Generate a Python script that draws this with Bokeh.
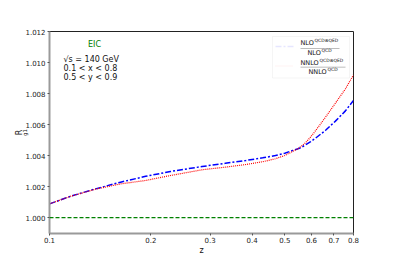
import numpy as np
from bokeh.plotting import figure
from bokeh.models import (Label, FixedTicker, CustomJSTickFormatter, Range1d, BoxAnnotation,
                          Span, Title)
from bokeh.embed import file_html
from bokeh.resources import INLINE

# data
z_vals = [0.1, 0.1155, 0.137, 0.1626, 0.193, 0.2287, 0.284, 0.333, 0.383, 0.43, 0.469, 0.5,
          0.527, 0.545, 0.557, 0.576, 0.597, 0.618, 0.661, 0.707, 0.757, 0.8]
r_nlo = [1.00088, 1.00137, 1.00185, 1.00228, 1.00266, 1.00297, 1.00329, 1.00350, 1.00368,
         1.00385, 1.00400, 1.00415, 1.00432, 1.00442, 1.00450, 1.00468, 1.00490, 1.00513,
         1.00563, 1.00622, 1.00688, 1.00755]
r_nnlo = [1.00088, 1.00137, 1.00183, 1.00217, 1.00239, 1.00271, 1.00308, 1.00325, 1.00342,
          1.00360, 1.00379, 1.00400, 1.00426, 1.00442, 1.00456, 1.00482, 1.00520, 1.00562,
          1.00648, 1.00738, 1.00830, 1.00920]
x_ticks = [0.1, 0.2, 0.3, 0.4, 0.5, 0.6, 0.7, 0.8]
y_ticks = [1.000, 1.002, 1.004, 1.006, 1.008, 1.010, 1.012]

FONT = "DejaVu Sans"
X0, X1 = 0.1, 0.8
Y0, Y1 = 0.99897, 1.012
FW, FH = 304, 202

p = figure(frame_width=FW, frame_height=FH, x_axis_type="log", output_backend="svg",
           toolbar_location=None, x_range=Range1d(X0, X1), y_range=Range1d(Y0, Y1),
           min_border_left=49, min_border_right=40, min_border_top=31, min_border_bottom=29)
p.grid.visible = False
p.outline_line_color = "#222222"
p.outline_line_width = 1
p.background_fill_color = "white"
p.border_fill_color = "white"

p.xaxis.ticker = FixedTicker(ticks=x_ticks, minor_ticks=[])
p.xaxis.formatter = CustomJSTickFormatter(code="return tick.toFixed(1);")
p.yaxis.ticker = FixedTicker(ticks=y_ticks, minor_ticks=[])
p.yaxis.formatter = CustomJSTickFormatter(code="return tick.toFixed(3);")
for ax in (p.xaxis, p.yaxis):
    ax.axis_line_color = "#9a9a9a"
    ax.axis_line_width = 2
    ax.major_tick_line_color = "#555555"
    ax.major_tick_out = 2
    ax.major_tick_in = 0
    ax.minor_tick_out = 0
    ax.minor_tick_in = 0
    ax.major_label_text_font = FONT
    ax.major_label_text_font_size = "7px"
    ax.major_label_text_color = "#222222"
    ax.major_label_standoff = 2
    ax.axis_label_text_font = FONT
    ax.axis_label_text_font_style = "normal"
    ax.axis_label_text_color = "#111111"
p.xaxis.major_label_standoff = 1
p.xaxis.axis_label = "z"
p.xaxis.axis_label_standoff = 0
p.xaxis.axis_label_text_font_size = "8px"

# y label R_{g1}: subscript as the axis label, "R" as a side title just outside it
p.yaxis.axis_label = "g1"
p.yaxis.axis_label_standoff = -6
p.yaxis.axis_label_text_font_size = "5.5px"
p.add_layout(Title(text="R", align="center", offset=11, standoff=-8, text_font=FONT,
                   text_font_size="8px", text_font_style="normal", text_color="#111111"),
             "left")


def fx(px):
    """frame-relative pixel -> data x (log axis)"""
    return X0 * (X1 / X0) ** (px / FW)


def fy(py):
    """frame-relative pixel (from top) -> data y"""
    return Y1 - (Y1 - Y0) * py / FH


p.line(z_vals, r_nlo, line_color="blue", line_width=1.5, line_dash="6 2 2 2")
p.line(z_vals, r_nnlo, line_color="red", line_width=1.2, line_dash="1 1")
p.add_layout(Span(location=1.0, dimension="width", line_color="green",
                  line_width=1.2, line_dash="4 2"))

# annotation texts
p.add_layout(Label(x=fx(45), y=fy(13), text="EIC", text_color="green", text_font=FONT,
                   text_font_size="8px", text_align="center", text_baseline="middle"))
for py, t in [(28, "√s = 140 GeV"), (36.5, "0.1 < x < 0.8"), (46, "0.5 < y < 0.9")]:
    p.add_layout(Label(x=fx(14), y=fy(py), text=t, text_color="#111111", text_font=FONT,
                       text_font_size="8px", text_baseline="middle"))

# legend
p.add_layout(BoxAnnotation(left=fx(223), right=fx(300), bottom=fy(46.5), top=fy(5),
                           fill_color="white", fill_alpha=0.9, line_color="#dddddd",
                           line_width=1))
p.line([fx(226), fx(244)], [fy(15), fy(15)], line_color="blue", line_width=1.5,
       line_dash="6 2 2 2")
p.line([fx(226), fx(244)], [fy(34.5), fy(34.5)], line_color="red", line_width=1.2,
       line_dash="1 1")


def txt(px, py, t, size, baseline="middle"):
    p.add_layout(Label(x=fx(px), y=fy(py), text=t, text_font=FONT, text_font_size=size,
                       text_align="left", text_baseline=baseline, text_color="#111111"))


# NLO fraction
txt(251, 11.5, "NLO", "6.5px")
txt(265, 9, "QCD⊗QED", "4.5px")
p.add_layout(BoxAnnotation(left=fx(251), right=fx(290), bottom=fy(17.5), top=fy(16.8),
                           fill_color="#222222", line_alpha=0))
txt(258, 21.5, "NLO", "6.5px")
txt(272, 19, "QCD", "4.5px")
# NNLO fraction
txt(251, 31, "NNLO", "6.5px")
txt(270, 28.5, "QCD⊗QED", "4.5px")
p.add_layout(BoxAnnotation(left=fx(251), right=fx(296), bottom=fy(36), top=fy(35.3),
                           fill_color="#222222", line_alpha=0))
txt(259, 40.5, "NNLO", "6.5px")
txt(278, 38, "QCD", "4.5px")

open("out.html", "w").write(file_html(p, INLINE))
